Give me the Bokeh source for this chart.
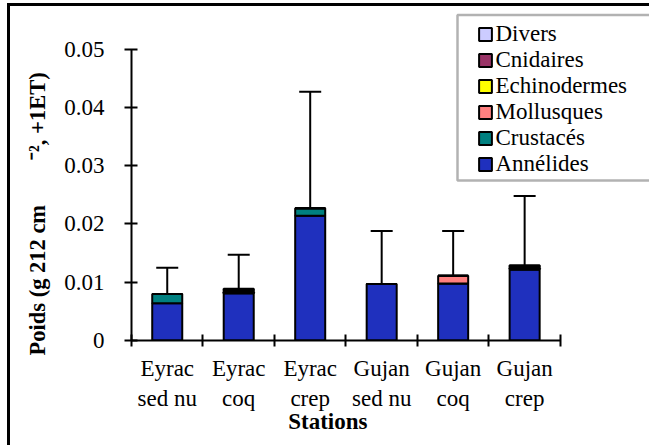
from bokeh.plotting import figure
from bokeh.models import (ColumnDataSource, Range1d, FixedTicker, Whisker, TeeHead,
                          Legend, LegendItem, BoxAnnotation, Title)
from bokeh.embed import file_html
from bokeh.resources import INLINE

# ---- data ----
stations = ["Eyrac\nsed nu", "Eyrac\ncoq", "Eyrac\ncrep",
            "Gujan\nsed nu", "Gujan\ncoq", "Gujan\ncrep"]
groups = ["Annélides", "Crustacés", "Mollusques", "Echinodermes", "Cnidaires", "Divers"]
annelides    = [0.0064, 0.0081, 0.0214, 0.0097, 0.0098, 0.0122]
crustaces    = [0.0016, 0.0000, 0.0013, 0.0000, 0.0000, 0.0000]
mollusques   = [0.0000, 0.0002, 0.0000, 0.0000, 0.0013, 0.0002]
echinodermes = [0.0000, 0.0002, 0.0000, 0.0000, 0.0000, 0.0002]
cnidaires    = [0.0000, 0.0002, 0.0000, 0.0000, 0.0000, 0.0002]
divers       = [0.0000, 0.0002, 0.0000, 0.0000, 0.0000, 0.0001]
ecart_type   = [0.0045, 0.0058, 0.0200, 0.0091, 0.0077, 0.0119]
y_ticks = [0, 0.01, 0.02, 0.03, 0.04, 0.05]
y_tick_labels = ["0", "0.01", "0.02", "0.03", "0.04", "0.05"]
colors = ["#1F30BE", "#008080", "#FF8080", "#FFFF00", "#993366", "#CCCCFF"]
x_title = "Stations"
y_title = "Poids (g 212 cm" + "\u00a0" * 8 + "\u207b\u00b2, +1ET)"

FONT = "'Liberation Serif', serif"
keys = ["annelides", "crustaces", "mollusques", "echinodermes", "cnidaires", "divers"]
series = [annelides, crustaces, mollusques, echinodermes, cnidaires, divers]

x = [i + 0.5 for i in range(len(stations))]
total = [sum(v) for v in zip(*series)]
data = dict(x=x, total=total, upper=[t + e for t, e in zip(total, ecart_type)])
for k, s in zip(keys, series):
    data[k] = s
src = ColumnDataSource(data)

# page: canvas origin at (10, 6); frame x 126..652, y 6..340 (0.05 at y=48.7)
p = figure(width=642, height=442,
           x_range=Range1d(0, len(stations) * 526.0 / 433.0),
           y_range=Range1d(0, 0.05 * 334.0 / 291.3),
           output_backend="svg", toolbar_location=None,
           min_border_left=116, min_border_right=0, min_border_top=0, min_border_bottom=108,
           styles={"margin-left": "7px", "margin-top": "3px",
                   "border-left": "3px solid black", "border-top": "3px solid black"})
p.xgrid.visible = False
p.ygrid.visible = False
p.outline_line_color = None
p.background_fill_color = "white"
p.border_fill_color = "white"

# legend box (screen units, relative to frame bottom-left)
legbox = BoxAnnotation(left=326, right=524, top=325.5, bottom=160,
                       left_units="screen", right_units="screen", top_units="screen", bottom_units="screen",
                       fill_color="white", fill_alpha=1, line_color="black", line_width=2.5, level="underlay")
p.add_layout(legbox)

rs = p.vbar_stack(keys, x="x", width=0.42, source=src, fill_color=colors,
                  line_color="black", line_width=2)

wh = Whisker(base="x", lower="total", upper="upper", source=src, line_width=2, line_color="black",
             upper_head=TeeHead(size=22, line_width=2, line_color="black"), lower_head=None)
p.add_layout(wh)

# x axis
xa = p.xaxis[0]
xa.bounds = (0, len(stations))
xa.ticker = FixedTicker(ticks=x, minor_ticks=list(range(len(stations) + 1)))
xa.major_label_overrides = {xi: s for xi, s in zip(x, stations)}
xa.major_tick_in = 0
xa.major_tick_out = 6
xa.major_tick_line_color = None
xa.minor_tick_in = 6
xa.minor_tick_out = 6
xa.minor_tick_line_width = 2
xa.minor_tick_line_color = "black"
xa.axis_line_width = 2
xa.major_label_text_font = FONT
xa.major_label_text_font_size = "23px"
xa.major_label_text_color = "black"
xa.major_label_standoff = 9

# y axis
ya = p.yaxis[0]
ya.bounds = (0, 0.05)
ya.ticker = FixedTicker(ticks=y_ticks, minor_ticks=[])
ya.major_label_overrides = {t: l for t, l in zip(y_ticks, y_tick_labels)}
ya.major_tick_in = 6
ya.major_tick_out = 7
ya.major_tick_line_width = 2
ya.minor_tick_line_color = None
ya.axis_line_width = 2
ya.major_label_text_font = FONT
ya.major_label_text_font_size = "23px"
ya.major_label_text_color = "black"
ya.major_label_standoff = 20

# axis titles
p.add_layout(Title(text=y_title, align="left", offset=-15, vertical_align="bottom", standoff=24,
                   text_font=FONT, text_font_size="22.5px", text_font_style="bold",
                   text_color="black"), "left")
p.add_layout(Title(text=x_title, align="left", offset=156.7, vertical_align="top", standoff=-10,
                   text_font=FONT, text_font_size="23px", text_font_style="bold",
                   text_color="black"), "below")

items = [LegendItem(label=g, renderers=[r]) for g, r in zip(groups, rs)][::-1]
legend = Legend(items=items, location=(345.5, 163.5), border_line_color=None,
                background_fill_alpha=0, padding=4, spacing=0, margin=0,
                label_height=26, glyph_height=16, glyph_width=16, label_standoff=3,
                label_text_font=FONT, label_text_font_size="23px", label_text_color="black")
p.add_layout(legend)

open("out.html", "w").write(file_html(p, INLINE))
